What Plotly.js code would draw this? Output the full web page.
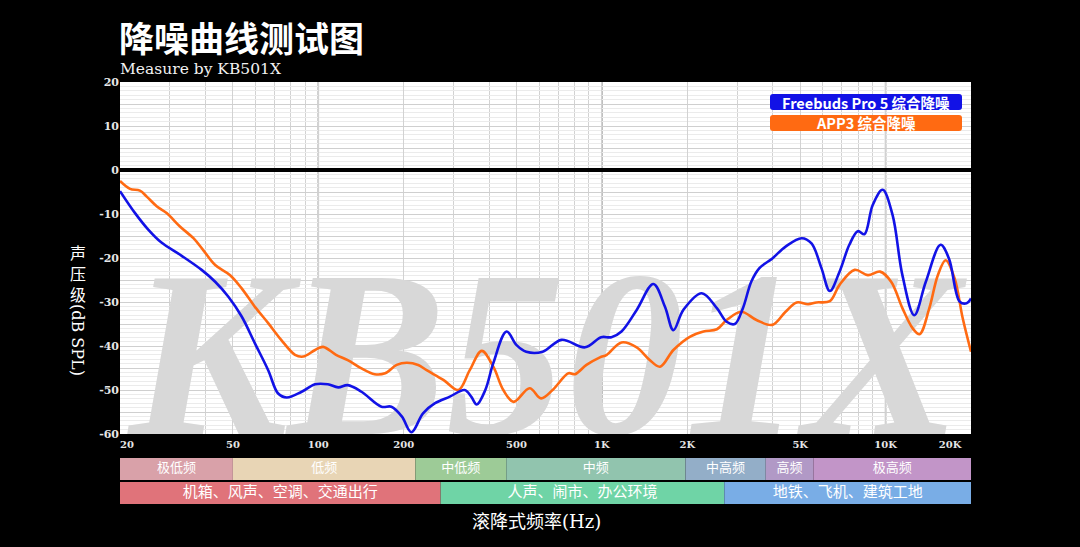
<!DOCTYPE html>
<html>
<head>
<meta charset="utf-8">
<script src="https://cdn.plot.ly/plotly-3.0.1.min.js"></script>
<style>
html,body{margin:0;padding:0;background:#000;}
#chart{width:1080px;height:547px;}
</style>
</head>
<body>
<div id="chart"></div>
<script>
// ---------------- DATA ----------------
const seriesNames = ['Freebuds Pro 5 综合降噪', 'APP3 综合降噪'];
const seriesColors = ['#1212e6', '#ff6a12'];

const freebudsFreq = [20, 22.6, 25.2, 28, 33, 38.8, 43.3, 48.2, 53.7, 59.8, 66.6, 72.2, 77.4, 87.4, 97.5, 108, 117.6, 127, 142, 167, 181, 197, 213, 234, 258, 291, 328, 346, 362, 388, 414, 461, 500, 541, 618, 720, 872, 994, 1080, 1172, 1326, 1518, 1668, 1786, 1936, 2248, 2542, 2752, 2940, 3140, 3360, 3590, 3988, 4440, 5060, 5480, 5940, 6360, 6880, 7450, 7980, 8420, 9000, 9760, 10580, 11460, 12620, 13860, 15620, 16720, 18240, 19300, 20000];
const freebudsDb = [-4.8, -9.8, -13.6, -16.5, -19.5, -22.7, -25.4, -28.8, -33.3, -39.4, -45.5, -50.8, -51.7, -50.4, -48.7, -48.7, -49.4, -48.9, -50.4, -53.8, -53.8, -56, -59.6, -55.3, -53, -51.5, -50.0, -51.5, -53.3, -50.0, -43.9, -36.7, -39.8, -41.3, -41.3, -38.6, -40.3, -38.0, -38.0, -36.7, -31.8, -25.9, -31.1, -36.4, -31.8, -28.0, -31.4, -34.5, -35.0, -31.4, -25.4, -22.3, -20.1, -17.4, -15.5, -16.7, -22.3, -27.5, -23.1, -17.0, -13.9, -14.6, -8.0, -4.5, -10.2, -23.9, -33.0, -25.4, -17.0, -20.1, -29.9, -30.3, -29.2];

const app3Freq = [20, 21.7, 23.5, 24.9, 27.0, 29.2, 32.6, 36.3, 39.3, 43.3, 48.9, 53.7, 59.8, 66.6, 74, 82.8, 88.5, 97.5, 104, 115.5, 127, 142, 158, 172, 189, 205, 225, 241, 276, 312, 342, 377, 414, 449, 488, 556, 610, 670, 762, 804, 882, 984, 1040, 1172, 1326, 1474, 1602, 1786, 2040, 2280, 2542, 2752, 3100, 3506, 3988, 4440, 4860, 5330, 5700, 6360, 6880, 7780, 8660, 9560, 10460, 11460, 12460, 13180, 14260, 15280, 16280, 17500, 18700, 20000];
const app3Db = [-2.5, -4.3, -4.7, -6.1, -8.3, -9.8, -12.9, -15.5, -18.2, -21.6, -23.9, -26.9, -31.1, -34.8, -38.6, -42.0, -42.4, -40.9, -40.2, -42.0, -43.2, -45.1, -46.4, -46.2, -44.3, -43.8, -44.3, -45.5, -47.7, -50.0, -45.5, -41.1, -44.7, -50.0, -52.7, -49.6, -51.9, -50.0, -46.2, -46.4, -44.3, -42.6, -42.0, -39.2, -40.3, -43.2, -44.7, -40.9, -37.9, -36.7, -36.2, -34.1, -32.2, -34.1, -35.2, -32.2, -30.1, -30.5, -30.1, -29.8, -26.1, -22.7, -23.9, -23.1, -25.4, -31.4, -36.0, -37.3, -31.4, -23.9, -20.5, -24.6, -33.7, -41.3];

const xTickVals = [20, 50, 100, 200, 500, 1000, 2000, 5000, 10000, 20000];
const xTickText = ['\u00a0\u00a0\u00a0\u00a020', '50', '100', '200', '500', '1K', '2K', '5K', '10K', '20K\u00a0\u00a0\u00a0\u00a0\u00a0\u00a0\u00a0\u00a0\u00a0\u00a0\u00a0\u00a0'];
const yTickVals = [-60, -55, -50, -45, -40, -35, -30, -25, -20, -15, -10, -5, 0, 5, 10, 15, 20];
const yTickText = ['-60', '', '-50', '', '-40', '', '-30', '', '-20', '', '-10', '', '0', '', '10', '', '20'];

const bandEdges = [20, 50, 220, 460, 1970, 3780, 5560, 20000];
const bandNames = ['极低频', '低频', '中低频', '中频', '中高频', '高频', '极高频'];
const bandColors = ['#d9a1a9', '#e8d5b5', '#9dcb97', '#91c4ae', '#93aec8', '#b199c6', '#c295c8'];

const sceneEdges = [20, 270, 2700, 20000];
const sceneNames = ['机箱、风声、空调、交通出行', '人声、闹市、办公环境', '地铁、飞机、建筑工地'];
const sceneColors = ['#e0737a', '#6fd4a6', '#79ade6'];

const titleText = '降噪曲线测试图';
const subtitleText = 'Measure by KB501X';
const watermarkText = 'KB501X';
const xTitleText = '滚降式频率(Hz)';

// ---------------- BUILD ----------------
const fMin = 20, fMax = 20000;
const traces = [];

// watermark (drawn first, behind curves)
traces.push({
  x: [Math.sqrt(fMin * fMax)], y: [-46.5], mode: 'text', text: [watermarkText],
  textposition: 'middle center', cliponaxis: true, hoverinfo: 'skip', showlegend: false,
  textfont: {family: 'Liberation Serif', size: 238, color: '#d8d8d8', weight: 'bold', style: 'italic'},
  xaxis: 'x', yaxis: 'y'
});

traces.push({
  x: app3Freq, y: app3Db, mode: 'lines', name: seriesNames[1],
  line: {color: seriesColors[1], width: 2.6, shape: 'spline', smoothing: 1},
  xaxis: 'x', yaxis: 'y', showlegend: false
});
traces.push({
  x: freebudsFreq, y: freebudsDb, mode: 'lines', name: seriesNames[0],
  line: {color: seriesColors[0], width: 2.6, shape: 'spline', smoothing: 1},
  xaxis: 'x', yaxis: 'y', showlegend: false
});

// band rows (y2 units: row2 0..22, row1 24..46)
function addRow(edges, names, colors, y0, y1, fontSize) {
  const tx = [], ty = [];
  for (let i = 0; i < names.length; i++) {
    const a = edges[i], b = edges[i + 1];
    traces.push({
      x: [a, b, b, a, a], y: [y0, y0, y1, y1, y0], mode: 'lines', fill: 'toself',
      fillcolor: colors[i], line: {width: 0, color: colors[i]}, hoverinfo: 'skip',
      showlegend: false, xaxis: 'x2', yaxis: 'y2'
    });
    tx.push(Math.sqrt(a * b)); ty.push((y0 + y1) / 2);
  }
  traces.push({
    x: tx, y: ty, text: names, mode: 'text', textposition: 'middle center',
    textfont: {family: 'Noto Sans CJK SC', size: fontSize, color: '#ffffff'},
    hoverinfo: 'skip', showlegend: false, xaxis: 'x2', yaxis: 'y2', cliponaxis: false
  });
}
addRow(bandEdges, bandNames, bandColors, 24, 46, 13);
addRow(sceneEdges, sceneNames, sceneColors, 0, 22, 15);

// minor grid positions
const minorX = [];
for (let d = 10; d <= 10000; d *= 10) {
  for (let m = 1; m <= 9; m++) {
    const v = m * d;
    if (v >= fMin && v <= fMax) minorX.push(v);
  }
}

const mainBottom = 1 - 352 / 422;
const bandTop = 46 / 422;
const decades = [100, 1000, 10000];

const shapes = [{
  type: 'rect', xref: 'x domain', yref: 'y domain', x0: 0, x1: 1, y0: 0, y1: 1,
  fillcolor: '#ffffff', line: {width: 0}, layer: 'below'
}];
decades.forEach(d => shapes.push({
  type: 'line', xref: 'x', yref: 'y domain', x0: d, x1: d, y0: 0, y1: 1,
  line: {color: '#a8a8a8', width: 1.6}, layer: 'below'
}));

// rounded legend boxes (paper coords from pixel geometry)
function px2x(p) { return (p - 120) / 851; }
function px2y(p) { return (504 - p) / 422; }
function roundedBox(l, r, t, b, rad, color) {
  const x0 = px2x(l), x1 = px2x(r), y0 = px2y(b), y1 = px2y(t);
  const rx = rad / 851, ry = rad / 422;
  const path = `M ${x0 + rx},${y1} L ${x1 - rx},${y1} Q ${x1},${y1} ${x1},${y1 - ry} ` +
    `L ${x1},${y0 + ry} Q ${x1},${y0} ${x1 - rx},${y0} L ${x0 + rx},${y0} Q ${x0},${y0} ${x0},${y0 + ry} ` +
    `L ${x0},${y1 - ry} Q ${x0},${y1} ${x0 + rx},${y1} Z`;
  return {type: 'path', xref: 'paper', yref: 'paper', path: path, fillcolor: color,
    line: {width: 0}, layer: 'above'};
}
shapes.push(roundedBox(770, 962, 94, 110, 3, seriesColors[0]));
shapes.push(roundedBox(770, 962, 115, 131, 3, seriesColors[1]));

const tickFont = {family: 'DejaVu Serif', size: 10, color: '#e6e6e6', weight: 'bold'};

const layout = {
  width: 1080, height: 547,
  margin: {l: 120, r: 109, t: 82, b: 43},
  paper_bgcolor: '#000000',
  plot_bgcolor: 'rgba(0,0,0,0)',
  showlegend: false,
  xaxis: {
    type: 'log', range: [Math.log10(fMin), Math.log10(fMax)], anchor: 'y',
    tickvals: xTickVals, ticktext: xTickText, tickfont: tickFont, ticks: '',
    ticklabelstandoff: 3,
    showgrid: true, gridcolor: '#d2d2d2', gridwidth: 1, zeroline: false, showline: false,
    minor: {tickvals: minorX, showgrid: true, gridcolor: '#d2d2d2', gridwidth: 1, ticks: ''},
    fixedrange: true
  },
  yaxis: {
    domain: [mainBottom, 1], range: [-60, 20], anchor: 'x',
    tickvals: yTickVals, ticktext: yTickText,
    tickfont: {family: 'DejaVu Serif', size: 11, color: '#e6e6e6', weight: 'bold'}, ticks: '',
    showgrid: true, gridcolor: '#cfcfcf', gridwidth: 1,
    minor: {dtick: 1, showgrid: true, gridcolor: '#ebebeb', gridwidth: 1, ticks: ''},
    zeroline: true, zerolinecolor: '#000000', zerolinewidth: 4, showline: false,
    fixedrange: true
  },
  xaxis2: {
    type: 'log', range: [Math.log10(fMin), Math.log10(fMax)], anchor: 'y2',
    visible: false, showgrid: false, zeroline: false, fixedrange: true
  },
  yaxis2: {
    domain: [0, bandTop], range: [0, 46], anchor: 'x2', visible: false,
    showgrid: false, zeroline: false, fixedrange: true
  },
  shapes: shapes,
  annotations: [
    {text: titleText, xref: 'paper', yref: 'paper', x: -0.003, y: px2y(37),
     xanchor: 'left', yanchor: 'middle', showarrow: false,
     font: {family: 'Noto Sans CJK SC', size: 35, color: '#ffffff', weight: 'bold'}},
    {text: subtitleText, xref: 'paper', yref: 'paper', x: -0.002, y: px2y(69),
     xanchor: 'left', yanchor: 'middle', showarrow: false,
     font: {family: 'DejaVu Serif', size: 15.5, color: '#f2f2f2'}},
    {text: seriesNames[0], xref: 'paper', yref: 'paper', x: px2x(866), y: px2y(102),
     xanchor: 'center', yanchor: 'middle', showarrow: false, align: 'center',
     font: {family: 'Noto Sans CJK SC', size: 14.5, color: '#ffffff', weight: 'bold'}},
    {text: seriesNames[1], xref: 'paper', yref: 'paper', x: px2x(866), y: px2y(123),
     xanchor: 'center', yanchor: 'middle', showarrow: false, align: 'center',
     font: {family: 'Noto Sans CJK SC', size: 14.5, color: '#ffffff', weight: 'bold'}},
    {text: '声<br>压<br>级', xref: 'paper', yref: 'paper', x: px2x(78), y: px2y(273),
     xanchor: 'center', yanchor: 'middle', showarrow: false,
     font: {family: 'Noto Sans CJK SC', size: 16, color: '#ffffff'}},
    {text: '(dB SPL)', xref: 'paper', yref: 'paper', x: px2x(78), y: px2y(340),
     xanchor: 'center', yanchor: 'middle', showarrow: false, textangle: 90,
     font: {family: 'DejaVu Serif', size: 16, color: '#ffffff'}},
    {text: xTitleText, xref: 'paper', yref: 'paper', x: px2x(536), y: px2y(521),
     xanchor: 'center', yanchor: 'middle', showarrow: false,
     font: {family: 'DejaVu Serif, Noto Sans CJK SC', size: 18, color: '#ffffff'}}
  ]
};

Plotly.newPlot('chart', traces, layout, {staticPlot: true, displayModeBar: false});
</script>
</body>
</html>
